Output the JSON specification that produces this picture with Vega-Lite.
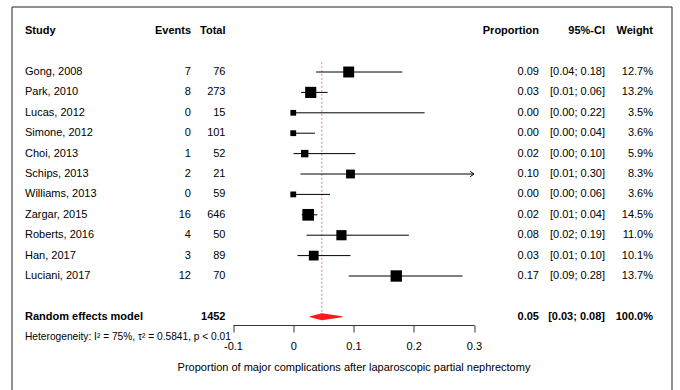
{
  "$schema": "https://vega.github.io/schema/vega-lite/v6.json",
  "width": 660,
  "height": 400,
  "autosize": {"type": "none"},
  "padding": {"left": 11.5, "top": 6.5, "right": 8, "bottom": 0},
  "background": "white",
  "config": {
    "view": {"stroke": "#222", "strokeWidth": 1},
    "font": "Liberation Sans",
    "text": {"font": "Liberation Sans", "fontSize": 11, "color": "black", "baseline": "middle"},
    "axisX": {
      "domainColor": "#333", "tickColor": "#333", "tickSize": 7, "grid": false,
      "labelFont": "Liberation Sans", "labelFontSize": 11, "labelColor": "black", "labelPadding": 8,
      "labelFlush": false, "labelOverlap": false,
      "titleFont": "Liberation Sans", "titleFontSize": 11, "titleFontWeight": "normal", "titleColor": "black", "titlePadding": 10
    }
  },
  "datasets": {
    "studies": [
      {"study": "Gong, 2008", "events": 7, "total": 76, "prop": 0.092, "lower": 0.038, "upper": 0.181, "ci": "[0.04; 0.18]", "weight": 12.7, "wlabel": "12.7%"},
      {"study": "Park, 2010", "events": 8, "total": 273, "prop": 0.029, "lower": 0.013, "upper": 0.057, "ci": "[0.01; 0.06]", "weight": 13.2, "wlabel": "13.2%"},
      {"study": "Lucas, 2012", "events": 0, "total": 15, "prop": 0, "lower": 0, "upper": 0.218, "ci": "[0.00; 0.22]", "weight": 3.5, "wlabel": "3.5%"},
      {"study": "Simone, 2012", "events": 0, "total": 101, "prop": 0, "lower": 0, "upper": 0.036, "ci": "[0.00; 0.04]", "weight": 3.6, "wlabel": "3.6%"},
      {"study": "Choi, 2013", "events": 1, "total": 52, "prop": 0.019, "lower": 0.0005, "upper": 0.103, "ci": "[0.00; 0.10]", "weight": 5.9, "wlabel": "5.9%"},
      {"study": "Schips, 2013", "events": 2, "total": 21, "prop": 0.095, "lower": 0.012, "upper": 0.30, "ci": "[0.01; 0.30]", "weight": 8.3, "wlabel": "8.3%"},
      {"study": "Williams, 2013", "events": 0, "total": 59, "prop": 0, "lower": 0, "upper": 0.061, "ci": "[0.00; 0.06]", "weight": 3.6, "wlabel": "3.6%"},
      {"study": "Zargar, 2015", "events": 16, "total": 646, "prop": 0.0248, "lower": 0.014, "upper": 0.040, "ci": "[0.01; 0.04]", "weight": 14.5, "wlabel": "14.5%"},
      {"study": "Roberts, 2016", "events": 4, "total": 50, "prop": 0.08, "lower": 0.022, "upper": 0.192, "ci": "[0.02; 0.19]", "weight": 11.0, "wlabel": "11.0%"},
      {"study": "Han, 2017", "events": 3, "total": 89, "prop": 0.034, "lower": 0.007, "upper": 0.095, "ci": "[0.01; 0.10]", "weight": 10.1, "wlabel": "10.1%"},
      {"study": "Luciani, 2017", "events": 12, "total": 70, "prop": 0.171, "lower": 0.092, "upper": 0.281, "ci": "[0.09; 0.28]", "weight": 13.7, "wlabel": "13.7%"}
    ],
    "bold": [
      {"row": "header", "study": "Study", "events": "Events", "total": "Total", "proportion": "Proportion", "ci": "95%-CI", "weight": "Weight"},
      {"row": "Random effects model", "study": "Random effects model", "events": "", "total": "1452", "proportion": "0.05", "ci": "[0.03; 0.08]", "weight": "100.0%"}
    ],
    "summary": [
      {"label": "Random effects model", "est": 0.0474, "lower": 0.028, "upper": 0.081}
    ],
    "notes": [
      {"row": "het", "text": "Heterogeneity: I² = 75%, τ² = 0.5841, p < 0.01"}
    ]
  },
  "resolve": {"scale": {"size": "independent"}},
  "layer": [
    {
      "data": {"name": "summary"},
      "mark": {"type": "rule", "color": "#f27d98", "stroke": "#f27d98", "strokeDash": [2, 2], "strokeWidth": 1, "opacity": 1},
      "encoding": {
        "x": {"field": "est", "type": "quantitative", "title": "Proportion of major complications after laparoscopic partial nephrectomy",
              "scale": {"domain": [-0.1, 0.3], "range": [221.5, 462.5], "nice": false, "zero": false},
              "axis": {"values": [-0.1, 0, 0.1, 0.2, 0.3], "format": "~g", "labelExpr": "replace(datum.label, '\u2212', '-')", "offset": -81.5}},
        "y": {"datum": "Gong, 2008", "type": "nominal", "bandPosition": 0, "axis": null,
              "scale": {"type": "band", "domain": ["header", "gap1", "Gong, 2008", "Park, 2010", "Lucas, 2012", "Simone, 2012", "Choi, 2013", "Schips, 2013", "Williams, 2013", "Zargar, 2015", "Roberts, 2016", "Han, 2017", "Luciani, 2017", "gap2", "Random effects model", "het"],
                        "range": [14.5, 340.9], "paddingInner": 0, "paddingOuter": 0}},
        "y2": {"datum": "Random effects model"}
      }
    },
    {
      "data": {"name": "studies"},
      "mark": {"type": "rule", "color": "black", "strokeWidth": 1},
      "encoding": {
        "x": {"field": "lower", "type": "quantitative", "title": "Proportion of major complications after laparoscopic partial nephrectomy"},
        "x2": {"field": "upper"},
        "y": {"field": "study", "type": "nominal", "axis": null}
      }
    },
    {
      "data": {"name": "studies"},
      "transform": [{"filter": "datum.upper >= 0.3"}],
      "mark": {"type": "point", "shape": "M-1,-0.7L0,0L-1,0.7", "filled": false, "stroke": "black", "strokeWidth": 1, "size": 60, "opacity": 1},
      "encoding": {
        "x": {"field": "upper", "type": "quantitative", "title": "Proportion of major complications after laparoscopic partial nephrectomy"},
        "y": {"field": "study", "type": "nominal", "axis": null}
      }
    },
    {
      "data": {"name": "studies"},
      "mark": {"type": "square", "filled": true, "color": "black", "opacity": 1},
      "encoding": {
        "x": {"field": "prop", "type": "quantitative", "title": "Proportion of major complications after laparoscopic partial nephrectomy"},
        "y": {"field": "study", "type": "nominal", "axis": null},
        "size": {"field": "weight", "type": "quantitative", "scale": {"domain": [0, 15], "range": [0, 141]}, "legend": null}
      }
    },
    {
      "data": {"name": "summary"},
      "transform": [{"fold": ["lower", "est", "upper"], "as": ["key", "value"]}],
      "mark": {"type": "trail", "color": "#ff1a1a"},
      "encoding": {
        "x": {"field": "value", "type": "quantitative", "title": "Proportion of major complications after laparoscopic partial nephrectomy"},
        "y": {"datum": "Random effects model", "type": "nominal", "axis": null},
        "size": {"field": "value", "type": "quantitative", "scale": {"type": "threshold", "domain": [0.037, 0.064], "range": [0, 7, 0]}, "legend": null}
      }
    },
    {
      "data": {"name": "studies"},
      "mark": {"type": "text", "align": "left"},
      "encoding": {"x": {"datum": -0.44523, "type": "quantitative"}, "y": {"field": "study", "type": "nominal", "axis": null}, "text": {"field": "study"}}
    },
    {
      "data": {"name": "studies"},
      "mark": {"type": "text", "align": "right"},
      "encoding": {"x": {"datum": -0.16971, "type": "quantitative"}, "y": {"field": "study", "type": "nominal", "axis": null}, "text": {"field": "events"}}
    },
    {
      "data": {"name": "studies"},
      "mark": {"type": "text", "align": "right"},
      "encoding": {"x": {"datum": -0.11245, "type": "quantitative"}, "y": {"field": "study", "type": "nominal", "axis": null}, "text": {"field": "total"}}
    },
    {
      "data": {"name": "studies"},
      "mark": {"type": "text", "align": "right"},
      "encoding": {"x": {"datum": 0.40788, "type": "quantitative"}, "y": {"field": "study", "type": "nominal", "axis": null}, "text": {"field": "prop", "type": "quantitative", "format": ".2f"}}
    },
    {
      "data": {"name": "studies"},
      "mark": {"type": "text", "align": "right"},
      "encoding": {"x": {"datum": 0.51743, "type": "quantitative"}, "y": {"field": "study", "type": "nominal", "axis": null}, "text": {"field": "ci"}}
    },
    {
      "data": {"name": "studies"},
      "mark": {"type": "text", "align": "right"},
      "encoding": {"x": {"datum": 0.5971, "type": "quantitative"}, "y": {"field": "study", "type": "nominal", "axis": null}, "text": {"field": "wlabel"}}
    },
    {
      "data": {"name": "bold"},
      "mark": {"type": "text", "align": "left", "fontWeight": "bold"},
      "encoding": {"x": {"datum": -0.44523, "type": "quantitative"}, "y": {"field": "row", "type": "nominal", "axis": null}, "text": {"field": "study"}}
    },
    {
      "data": {"name": "bold"},
      "mark": {"type": "text", "align": "right", "fontWeight": "bold"},
      "encoding": {"x": {"datum": -0.16971, "type": "quantitative"}, "y": {"field": "row", "type": "nominal", "axis": null}, "text": {"field": "events"}}
    },
    {
      "data": {"name": "bold"},
      "mark": {"type": "text", "align": "right", "fontWeight": "bold"},
      "encoding": {"x": {"datum": -0.11245, "type": "quantitative"}, "y": {"field": "row", "type": "nominal", "axis": null}, "text": {"field": "total"}}
    },
    {
      "data": {"name": "bold"},
      "mark": {"type": "text", "align": "right", "fontWeight": "bold"},
      "encoding": {"x": {"datum": 0.40788, "type": "quantitative"}, "y": {"field": "row", "type": "nominal", "axis": null}, "text": {"field": "proportion"}}
    },
    {
      "data": {"name": "bold"},
      "mark": {"type": "text", "align": "right", "fontWeight": "bold"},
      "encoding": {"x": {"datum": 0.51743, "type": "quantitative"}, "y": {"field": "row", "type": "nominal", "axis": null}, "text": {"field": "ci"}}
    },
    {
      "data": {"name": "bold"},
      "mark": {"type": "text", "align": "right", "fontWeight": "bold"},
      "encoding": {"x": {"datum": 0.5971, "type": "quantitative"}, "y": {"field": "row", "type": "nominal", "axis": null}, "text": {"field": "weight"}}
    },
    {
      "data": {"name": "notes"},
      "mark": {"type": "text", "align": "left", "fontSize": 10.2},
      "encoding": {"x": {"datum": -0.44523, "type": "quantitative"}, "y": {"field": "row", "type": "nominal", "axis": null}, "text": {"field": "text"}}
    }
  ]
}
